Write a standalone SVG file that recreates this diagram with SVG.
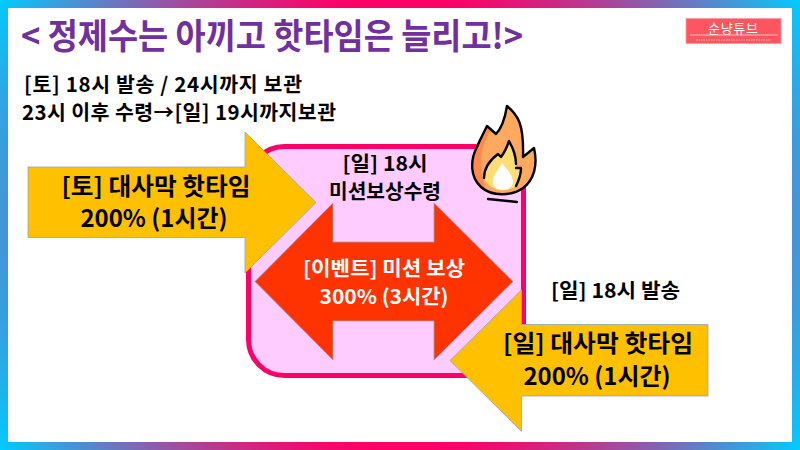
<svg xmlns="http://www.w3.org/2000/svg" width="800" height="450" viewBox="0 0 800 450">
<defs>
<radialGradient id="frameGrad" gradientUnits="userSpaceOnUse" cx="400" cy="225" r="459">
<stop offset="0.49" stop-color="#FF0066"/>
<stop offset="1" stop-color="#00CCFF"/>
</radialGradient>
</defs>
<style>
text{font-family:"Noto Sans CJK KR","Noto Sans",sans-serif;font-weight:700;fill:#000;text-anchor:middle}
.arrow{stroke:#8FA6BC;stroke-width:.8}
.gold{fill:#FFC000}
.outline{fill:none;stroke:#000;stroke-width:2.4;stroke-linejoin:round;stroke-linecap:round}
</style>
<rect width="800" height="450" fill="url(#frameGrad)"/>
<rect x="8" y="8" width="784" height="434" fill="#fff"/>

<g id="title">
<text x="272" y="49" font-size="35" style="fill:#7030A0" textLength="502" lengthAdjust="spacingAndGlyphs">&lt; 정제수는 아끼고 핫타임은 늘리고!&gt;</text>
</g>
<g id="logo">
<rect x="686" y="18.500" width="95" height="25" fill="#FF5560" stroke="#FF9AA2" stroke-width=".8"/>
<text x="733" y="32.500" font-size="13" textLength="50" style="fill:#fff;font-weight:400">순냥튜브</text>
<line x1="690" y1="35" x2="778" y2="35" stroke="#FFD8DC" stroke-width=".8"/>
<line x1="696" y1="40" x2="771" y2="40" stroke="#FFC4CA" stroke-width="1.200" stroke-dasharray="1.500 1"/>
</g>
<g id="notes">
<text x="163" y="92" font-size="20.500" textLength="278">[토] 18시 발송 / 24시까지 보관</text>
<text x="179" y="120" font-size="20.500" textLength="314">23시 이후 수령→[일] 19시까지보관</text>
</g>

<g id="mission-box">
<rect x="248.500" y="146.500" width="275" height="229" rx="36" fill="#FFCCFF" stroke="#FF0066" stroke-width="5"/>
<text x="385" y="171" font-size="20" textLength="85" lengthAdjust="spacingAndGlyphs">[일] 18시</text>
<text x="385" y="199" font-size="20" textLength="112" lengthAdjust="spacingAndGlyphs">미션보상수령</text>
</g>

<g id="flame">
<path d="M507 106C518 115 524 124 523 157L534 148C538 165 534 180 523 188C512 196 492 197 481 187C470 177 470 160 477 147C480 140 484 132 487 126L496 134C502 128 505 118 507 106Z" fill="#FFA95E"/>
<path d="M487 126C478 140 472 150 473 165C474 175 478 185 486 190C478 165 480 145 491 131Z" fill="#FF8A50"/>
<path d="M484 178C484 168 490 160 498 154L501 157C505 152 507 147 509 141C513 148 516 155 516 164L517 168L521 168C521 175 519 180 516 186C506 193 490 192 484 178Z" fill="#FFDD77"/>
<path d="M502 163C506 169 513 175 513 182C513 187 508 190 503 190C497 190 493 187 493 182C493 175 499 169 502 163Z" fill="#fff"/>
<path class="outline" d="M507 106C518 115 524 124 523 157L534 148C538 165 534 180 523 188C512 196 492 197 481 187C470 177 470 160 477 147C480 140 484 132 487 126L496 134C502 128 505 118 507 106Z"/>
<path class="outline" d="M484 178C484 168 490 160 498 154L501 157C505 152 507 147 509 141C513 148 516 155 516 164"/>
<path class="outline" d="M516 168L521 168C521 175 519 180 516 186"/>
<line class="outline" x1="488" y1="199" x2="517" y2="202"/>
</g>

<g id="event-arrow">
<path class="arrow" d="M255 281.500L333 203V242H434V203L513 281.500L434 360V321H333V360Z" fill="#FF3300"/>
<text x="384" y="275.500" font-size="20" textLength="162" lengthAdjust="spacingAndGlyphs" style="fill:#fff">[이벤트] 미션 보상</text>
<text x="384" y="303.500" font-size="20" textLength="129" lengthAdjust="spacingAndGlyphs" style="fill:#fff">300% (3시간)</text>
</g>

<g id="saturday-arrow">
<path class="arrow gold" d="M28 167H245V132L316 202.500L245 273V237.500H28Z"/>
<text x="156" y="195" font-size="24" textLength="189" lengthAdjust="spacingAndGlyphs">[토] 대사막 핫타임</text>
<text x="154" y="227" font-size="24" textLength="147" lengthAdjust="spacingAndGlyphs">200% (1시간)</text>
</g>

<text x="615.500" y="298" font-size="20" textLength="129" lengthAdjust="spacingAndGlyphs">[일] 18시 발송</text>

<g id="sunday-arrow">
<path class="arrow gold" d="M708 324.500H521.500V290L450 360.500L521.500 431.500V396H708Z"/>
<text x="598" y="352" font-size="24" textLength="190" lengthAdjust="spacingAndGlyphs">[일] 대사막 핫타임</text>
<text x="597" y="385" font-size="24" textLength="147" lengthAdjust="spacingAndGlyphs">200% (1시간)</text>
</g>

<g id="connectors"></g>
</svg>
